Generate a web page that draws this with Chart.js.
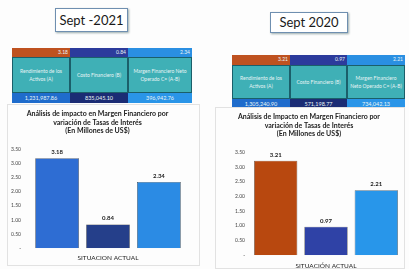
<!DOCTYPE html>
<html lang="es">
<head>
  <meta charset="UTF-8">
  <title>Sept 2021 vs Sept 2020</title>
  <script src="https://cdn.jsdelivr.net/npm/chart.js"></script>
  <style>
    body { margin: 0; width: 409px; height: 269px; background: #fdfdfd; position: relative; overflow: hidden; font-family: Lato, sans-serif; }
    .tag { position: absolute; background: #fff; border: 1px solid #6f8fb0; box-shadow: 1px 1px 2px #9aa; color: #1a1a1a; font-size: 13px; text-align: center; box-sizing: border-box; }
    .tbl { position: absolute; display: grid; }
    .tbl div { box-sizing: border-box; color: #e8f4f5; font-size: 5px; text-align: center; overflow: hidden; }
    .strip { text-align: right !important; padding-right: 2px; font-size: 5px; line-height: 9px; }
    .cell { background: #3fb0b6; border: 1px solid #1b5f6a; display: flex; align-items: center; justify-content: center; line-height: 8px; padding: 0 2px; }
    .amt { line-height: 10px; font-size: 5.5px !important; }
    .box { position: absolute; border: 1px solid #e2e2e2; box-sizing: border-box; }
    canvas { position: absolute; }
  </style>
</head>
<body>
<div class="tag" style="left:55px;top:8px;width:73px;height:24px;line-height:22px;">Sept -2021</div>
<div class="tag" style="left:270px;top:12px;width:78px;height:21px;line-height:19px;">Sept 2020</div>

<div id="tbl2021" class="tbl" style="left:12px;top:48px;grid-template-columns:58px 58px 64px;grid-template-rows:9px 36px 10px;"></div>
<div id="tbl2020" class="tbl" style="left:232px;top:55px;grid-template-columns:58px 57px 58px;grid-template-rows:10px 34px 9px;"></div>

<div class="box" style="left:7px;top:104px;width:193px;height:162px;"></div>
<div class="box" style="left:215px;top:107px;width:190px;height:162px;"></div>
<canvas id="c2021" width="196" height="164" style="left:4px;top:104px;"></canvas>
<canvas id="c2020" width="194" height="171" style="left:215px;top:107px;"></canvas>

<script>
  const seriesNames = ['Rendimiento de los Activos (A)', 'Costo Financiero (B)', 'Margen Financiero Neto Operado C= (A-B)'];
  const categories2021 = ['SITUACION ACTUAL'];
  const categories2020 = ['SITUACIÓN ACTUAL'];
  const values2021 = [3.18, 0.84, 2.34];
  const values2020 = [3.21, 0.97, 2.21];
  const amounts2021 = ['1,231,987.86', '835,045.10', '396,942.76'];
  const amounts2020 = ['1,305,240.90', '571,198.77', '734,042.13'];
  const title2021 = ['Análisis de impacto en Margen Financiero por', 'variación de Tasas de Interés', '(En Millones de US$)'];
  const title2020 = ['Análisis de Impacto en Margen Financiero por', 'variación de Tasas de Interés', '(En Millones de US$)'];

  const stripColors = ['#bf5220', '#2c3b9c', '#2a8fe2'];
  const amountColors = ['#1f6ccc', '#1b2c74', '#2a95e8'];
  const colors2021 = ['#2e6dd3', '#253f8a', '#2b8be4'];
  const colors2020 = ['#b8480f', '#2f42a6', '#2896ea'];

  function buildTable(id, values, amounts) {
    const el = document.getElementById(id);
    let html = '';
    values.forEach((v, i) => {
      html += `<div class="strip" style="background:${stripColors[i]}">${v.toFixed(2)}</div>`;
    });
    seriesNames.forEach(n => { html += `<div class="cell">${n}</div>`; });
    amounts.forEach((a, i) => {
      html += `<div class="amt" style="background:${amountColors[i]}">${a}</div>`;
    });
    el.innerHTML = html;
  }

  // draws the value above each bar
  const valueLabels = {
    id: 'valueLabels',
    afterDatasetsDraw(chart) {
      const ctx = chart.ctx;
      ctx.save();
      ctx.font = 'bold 6px Lato';
      ctx.fillStyle = '#222';
      ctx.textAlign = 'center';
      ctx.textBaseline = 'bottom';
      chart.data.datasets.forEach((ds, i) => {
        const bar = chart.getDatasetMeta(i).data[0];
        ctx.fillText(ds.data[0].toFixed(2), bar.x, bar.y - 3);
      });
      ctx.restore();
    }
  };

  function drawChart(id, cats, values, colors, title, cfg) {
    new Chart(document.getElementById(id), {
      type: 'bar',
      data: {
        labels: cats,
        datasets: values.map((v, i) => ({
          label: seriesNames[i],
          data: [v],
          backgroundColor: colors[i],
          borderColor: '#333',
          borderWidth: 0.6,
          barPercentage: 0.86,
          categoryPercentage: cfg.catPct
        }))
      },
      options: {
        responsive: false,
        animation: false,
        devicePixelRatio: 1,
        layout: { padding: { left: 0, right: cfg.padRight, top: 0, bottom: cfg.padBottom } },
        plugins: {
          legend: { display: false },
          tooltip: { enabled: false },
          title: {
            display: true,
            text: title,
            color: '#222',
            font: { family: 'Lato', size: 7, weight: 'bold' },
            lineHeight: cfg.titleLH,
            padding: { top: cfg.titleTop, bottom: cfg.titleBottom }
          }
        },
        scales: {
          x: {
            grid: { display: false, drawTicks: false, tickLength: 0 },
            border: { display: false },
            ticks: { color: '#222', font: { family: 'Lato', size: 6.5 }, padding: cfg.xPad }
          },
          y: {
            min: 0,
            max: 3.5,
            grid: { display: false, drawTicks: false, tickLength: 0 },
            border: { display: false },
            ticks: {
              stepSize: 0.5,
              color: '#444',
              font: { family: 'Lato', size: 5 },
              padding: 4,
              callback: v => v === 0 ? '-' : v.toFixed(2)
            },
            afterFit(s) { s.width = cfg.yWidth; }
          }
        }
      },
      plugins: [valueLabels]
    });
  }

  buildTable('tbl2021', values2021, amounts2021);
  buildTable('tbl2020', values2020, amounts2020);

  drawChart('c2021', categories2021, values2021, colors2021, title2021,
    { catPct: 0.92, padRight: 9, padBottom: 0, yWidth: 21, titleLH: 1.3, titleTop: 6, titleBottom: 14, xPad: 6 });
  drawChart('c2020', categories2020, values2020, colors2020, title2020,
    { catPct: 0.98, padRight: 6, padBottom: 1, yWidth: 34, titleLH: 1.5, titleTop: 6, titleBottom: 14, xPad: 7 });
</script>
</body>
</html>
